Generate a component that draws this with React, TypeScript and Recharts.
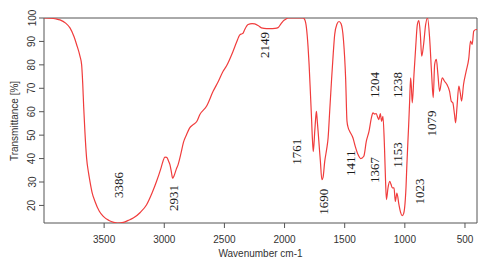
import { LineChart, Line, XAxis, YAxis, ReferenceArea, ReferenceDot } from 'recharts';

// IR spectrum, wavenumber (cm-1) vs transmittance (%)
const wavenumbers = [
  4000, 3950, 3900, 3867, 3820, 3784, 3750, 3729, 3700, 3687, 3678, 3670, 3660, 3646, 3630, 3618,
  3600, 3576, 3540, 3507, 3460, 3420, 3386, 3340, 3300, 3258, 3200, 3147, 3100, 3064, 3030, 3010,
  2995, 2980, 2965, 2953, 2940, 2931, 2920, 2900, 2885, 2860, 2840, 2815, 2790, 2760, 2730, 2704,
  2649, 2594, 2550, 2511, 2483, 2428, 2400, 2372, 2358, 2345, 2331, 2303, 2270, 2248, 2220, 2192,
  2149, 2123, 2080, 2054, 2030, 2012, 1990, 1971, 1900, 1846, 1830, 1818, 1805, 1796, 1785, 1777,
  1768, 1761, 1749, 1740, 1735, 1728, 1721, 1710, 1702, 1690, 1680, 1666, 1650, 1638, 1625, 1610,
  1595, 1583, 1565, 1547, 1530, 1510, 1492, 1481, 1470, 1458, 1431, 1411, 1389, 1367, 1341, 1320,
  1298, 1278, 1265, 1250, 1238, 1225, 1216, 1204, 1193, 1182, 1169, 1160, 1153, 1140, 1126, 1115,
  1104, 1090, 1079, 1066, 1049, 1035, 1023, 1010, 1002, 990, 983, 968, 960, 952, 945, 938,
  924, 910, 896, 883, 871, 860, 844, 827, 811, 794, 777, 764, 752, 738, 725, 711,
  689, 670, 650, 628, 614, 601, 587, 578, 567, 551, 539, 528, 512, 490, 468, 454,
  440, 427, 407, 400,
];

const transmittance = [
  100, 99.9, 99.6, 99.2, 97.8, 95.8, 92, 88.7, 83.5, 80, 72, 62, 51.6, 40.3, 34, 30.3,
  25.5, 21.7, 17.5, 15.3, 13.6, 12.8, 12.5, 12.8, 13.6, 14.6, 17, 20.3, 25.5, 30.3, 35.5, 39,
  40.6, 40.5, 39, 37.4, 34, 31.6, 32.5, 35.5, 37.4, 42.5, 47, 50.2, 53, 54.5, 55.8, 58.8,
  62.3, 68.7, 73, 77.3, 79.5, 85.8, 89.5, 92.8, 93.2, 93.5, 95.1, 97.2, 97.6, 97.5, 96.8, 95.8,
  95.5, 95.5, 95.6, 95.9, 97.5, 98.7, 99.5, 100, 100, 100, 99, 95.8, 88, 80.2, 68, 58.8,
  48, 43, 51.6, 58, 60.2, 56, 51.6, 44, 38.8, 31, 32, 38.8, 44, 48.8, 60, 73,
  85, 93, 97.3, 98.5, 97.5, 90.5, 74, 56, 53, 51.6, 48.8, 45, 41.7, 40, 41, 47.4,
  51.6, 57.4, 59.5, 59, 59.2, 57.5, 56.6, 59.2, 55.9, 58, 44.5, 30, 22.5, 27.5, 30.3, 29,
  27.5, 27.5, 21.7, 25.3, 20.3, 17, 15.6, 16.5, 18.9, 28, 37.4, 54.5, 64.5, 74.5, 70, 63.8,
  75.9, 87.3, 97.2, 98.9, 93, 83.7, 88.7, 97.2, 100, 91.5, 75.9, 66, 80.2, 82.3, 75.9, 68.7,
  74.5, 73, 71.6, 68.7, 64.5, 63.8, 58.8, 55.2, 61.6, 70.9, 68, 64.5, 71.6, 77.3, 82.9, 90.1,
  88.7, 94.4, 95.1, 95,
];

const xTicks = [3500, 3000, 2500, 2000, 1500, 1000, 500];
const yTicks = [20, 30, 40, 50, 60, 70, 80, 90, 100];

// peak annotations: text, and where the text is centred (wavenumber, transmittance)
const peakLabels = ['3386', '2931', '2149', '1761', '1690', '1411', '1367', '1204', '1238', '1153', '1023', '1079'];
const peakLabelWn = [3382, 2925, 2163, 1899, 1672, 1450, 1256, 1256, 1063, 1063, 882, 780];
const peakLabelT = [28.7, 23.2, 88.5, 42.9, 21.6, 38, 35.1, 71.4, 71.4, 41.5, 25.9, 55];

const spectrum = wavenumbers.map((wn, i) => ({ wn, t: transmittance[i] }));

const AXIS = '#555';
const SANS = '"Liberation Sans", Arial, sans-serif';
const SERIF = '"Liberation Serif", "Times New Roman", serif';

const XTick = ({ x, y, payload }: any) => (
  <text x={x} y={y + 9} textAnchor="middle" dominantBaseline="central" fontFamily={SANS} fontSize={10} fill="#333">
    {payload.value}
  </text>
);

const YTick = ({ x, y, payload }: any) => (
  <text
    x={x - 5}
    y={y}
    transform={`rotate(-90, ${x - 5}, ${y})`}
    textAnchor="middle"
    dominantBaseline="central"
    fontFamily={SANS}
    fontSize={10}
    fill="#333"
  >
    {payload.value}
  </text>
);

export default function App() {
  return (
    <div style={{ position: 'absolute', left: 0, top: 0, background: '#fff' }}>
      <LineChart width={489} height={264} data={spectrum} margin={{ top: 18, right: 12, left: 14, bottom: 11 }}>
        <XAxis
          type="number"
          dataKey="wn"
          domain={[400, 4000]}
          reversed
          allowDataOverflow
          ticks={xTicks}
          height={30}
          axisLine={false}
          tickLine={{ stroke: AXIS }}
          tickSize={5}
          tickMargin={2}
          tick={<XTick />}
          label={{
            content: ({ viewBox }: any) => (
              <text
                x={viewBox.x + viewBox.width / 2}
                y={253}
                textAnchor="middle"
                dominantBaseline="central"
                fontFamily={SANS}
                fontSize={10}
                fill="#333"
              >
                Wavenumber cm-1
              </text>
            ),
          }}
        />
        <YAxis
          type="number"
          domain={[12.5, 100]}
          allowDataOverflow
          ticks={yTicks}
          width={30}
          axisLine={false}
          tickLine={{ stroke: AXIS }}
          tickSize={5}
          tickMargin={2}
          tick={<YTick />}
          label={{
            content: () => (
              <text
                x={14}
                y={121}
                transform="rotate(-90, 14, 121)"
                textAnchor="middle"
                dominantBaseline="central"
                fontFamily={SANS}
                fontSize={10}
                fill="#333"
              >
                Transmittance [%]
              </text>
            ),
          }}
        />
        <ReferenceArea x1={4000} x2={400} y1={12.5} y2={100} fill="none" stroke={AXIS} strokeWidth={1} />
        <Line
          type="monotone"
          dataKey="t"
          stroke="#f03c3c"
          strokeWidth={1.2}
          dot={false}
          isAnimationActive={false}
        />
        {peakLabels.map((label, i) => (
          <ReferenceDot
            key={label}
            x={peakLabelWn[i]}
            y={peakLabelT[i]}
            r={0}
            ifOverflow="visible"
            shape={({ cx, cy }: any) => (
              <text
                x={cx}
                y={cy}
                transform={`rotate(-90, ${cx}, ${cy})`}
                textAnchor="middle"
                dominantBaseline="central"
                fontFamily={SERIF}
                fontSize={13}
                fill="#1a1a1a"
              >
                {label}
              </text>
            )}
          />
        ))}
      </LineChart>
    </div>
  );
}
